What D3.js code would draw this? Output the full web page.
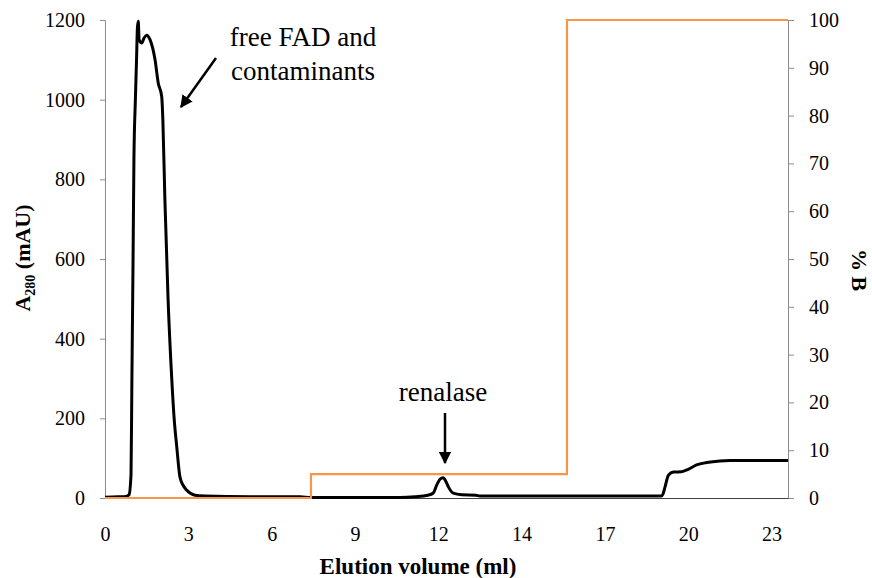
<!DOCTYPE html>
<html><head><meta charset="utf-8">
<script src="https://cdn.jsdelivr.net/npm/d3@7"></script>
<style>body{margin:0;background:#fff}svg{display:block}</style>
</head><body><svg id="c" width="872" height="578"></svg>
<script>
// Absorbance trace (elution volume ml, A280 mAU)
const volA = [0,0.45,0.73,0.83,0.90,0.93,0.97,1.00,1.05,1.09,1.12,1.15,1.18,1.27,1.35,1.44,1.56,1.73,1.84,1.96,2.00,2.07,2.18,2.31,2.39,2.48,2.59,2.70,2.82,3.11,3.46,5.01,6.74,7.12,10.20,10.72,11.16,11.34,11.47,11.58,11.69,11.78,11.87,12.04,12.33,12.82,12.96,17.11,19.24,19.29,19.36,19.48,19.65,19.93,20.16,20.45,20.80,21.26,21.60,23.61];
const a280 = [2,3,4,8,60,300,600,850,1000,1100,1180,1197,1150,1142,1155,1162,1150,1100,1042,1008,950,750,500,296,200,129,53,32,20,7,5,3,3,1,1,3,7,12,33,47,51,42,28,12,8,7,5,5,5,10,28,58,65,66,72,83,89,93,94,94];
// Gradient (% B)
const volB = [0,7.12,7.12,15.97,15.97,23.61];
const pctB = [0,0,5,5,100,100];
// Axis ticks
const xTickVals = [0,2.88,5.76,8.64,11.52,14.4,17.28,20.16,23.04];
const xTickLabels = ["0","3","6","9","12","14","17","20","23"];
const yLeftTicks = [0,200,400,600,800,1000,1200];
const yRightTicks = [0,10,20,30,40,50,60,70,80,90,100];

const FONT = "'Liberation Serif','Times New Roman',serif";
const svg = d3.select("#c");
const L=105, R=788, T=20, B=498;
const x = d3.scaleLinear().domain([0,23.61]).range([L,R]);
const yL = d3.scaleLinear().domain([0,1200]).range([B,T]);
const yR = d3.scaleLinear().domain([0,100]).range([B,T]);

function styleText(sel, size){ sel.style("font-family",FONT).style("font-size",size+"px").attr("fill","#000"); return sel; }

// Left axis
const gL = svg.append("g").attr("transform",`translate(${L},0)`)
  .call(d3.axisLeft(yL).tickValues(yLeftTicks).tickFormat(d3.format("d")).tickSize(5).tickPadding(15));
gL.select(".domain").attr("stroke","#8c8c8c");
gL.selectAll(".tick line").attr("stroke","#8c8c8c");
styleText(gL.selectAll("text"),20);

// Right axis
const gR = svg.append("g").attr("transform",`translate(${R},0)`)
  .call(d3.axisRight(yR).tickValues(yRightTicks).tickFormat(d3.format("d")).tickSize(6).tickPadding(15));
gR.select(".domain").attr("stroke","#8c8c8c");
gR.selectAll(".tick line").attr("stroke","#8c8c8c");
styleText(gR.selectAll("text"),20);

// Bottom axis
const gB = svg.append("g").attr("transform",`translate(0,${B})`)
  .call(d3.axisBottom(x).tickValues(xTickVals).tickFormat((d,i)=>xTickLabels[i]).tickSize(0).tickPadding(29));
gB.select(".domain").attr("stroke","#404040");
styleText(gB.selectAll("text"),20);

// Lines
const lineA = d3.line().x(i=>x(volA[i])).y(i=>yL(a280[i])).curve(d3.curveMonotoneX);
svg.append("path").attr("d",lineA(d3.range(volA.length)))
  .attr("fill","none").attr("stroke","#000").attr("stroke-width",3).attr("stroke-linejoin","round");
const lineB = d3.line().x(i=>x(volB[i])).y(i=>yR(pctB[i]));
svg.append("path").attr("d",lineB(d3.range(volB.length)))
  .attr("fill","none").attr("stroke","#F79646").attr("stroke-width",2.2);

// Axis titles
styleText(svg.append("text").attr("x",418).attr("y",574).attr("text-anchor","middle")
  .style("font-weight","bold").text("Elution volume (ml)"),23);
const yt = styleText(svg.append("text").attr("transform","translate(30,258) rotate(-90)").attr("text-anchor","middle")
  .style("font-weight","bold"),22);
yt.append("tspan").text("A");
yt.append("tspan").style("font-size","14px").attr("dy",5).text("280");
yt.append("tspan").attr("dy",-5).text(" (mAU)");
styleText(svg.append("text").attr("transform","translate(852,270) rotate(90)").attr("text-anchor","middle")
  .style("font-weight","bold").text("% B"),22);

// Annotations
svg.append("defs").append("marker").attr("id","ah").attr("viewBox","0 0 10 10").attr("refX",9).attr("refY",5)
  .attr("markerWidth",5).attr("markerHeight",5).attr("orient","auto")
  .append("path").attr("d","M0,0 L10,5 L0,10 z").attr("fill","#000");
styleText(svg.append("text").attr("x",303).attr("y",46).attr("text-anchor","middle").text("free FAD and"),27);
styleText(svg.append("text").attr("x",303).attr("y",80).attr("text-anchor","middle").text("contaminants"),27);
svg.append("line").attr("x1",216).attr("y1",58).attr("x2",181).attr("y2",107)
  .attr("stroke","#000").attr("stroke-width",2.5).attr("marker-end","url(#ah)");
styleText(svg.append("text").attr("x",443).attr("y",401).attr("text-anchor","middle").text("renalase"),27);
svg.append("line").attr("x1",445).attr("y1",413).attr("x2",445).attr("y2",463)
  .attr("stroke","#000").attr("stroke-width",2.5).attr("marker-end","url(#ah)");
</script></body></html>
